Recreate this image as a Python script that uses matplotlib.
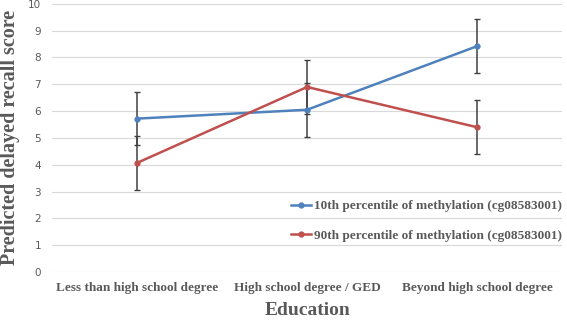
import numpy as np
import matplotlib.pyplot as plt
from matplotlib.lines import Line2D

categories = ['Less than high school degree', 'High school degree / GED', 'Beyond high school degree']
p10 = [5.72, 6.05, 8.42]
p90 = [4.07, 6.90, 5.40]
err10 = [1.0, 1.0, 1.0]
err90 = [1.0, 1.0, 1.0]
labels = ['10th percentile of methylation (cg08583001)', '90th percentile of methylation (cg08583001)']
colors = ['#4F81BD', '#C0504D']

fig = plt.figure(figsize=(5.67, 3.23), dpi=100)
ax = fig.add_axes([0.092, 0.158, 0.899, 0.830])

x = np.arange(len(categories))
for vals, errs, c in [(p10, err10, colors[0]), (p90, err90, colors[1])]:
    ax.errorbar(x, vals, yerr=errs, color=c, lw=1.8, marker='o', ms=3.5,
                ecolor='#404040', elinewidth=1.1, capsize=2.5, zorder=3)

ax.set_xlim(-0.5, 2.5)
ax.set_ylim(0, 10)
ax.set_yticks(range(0, 11))
ax.set_xticks(x)
ax.set_xticklabels(categories, family='Liberation Serif', fontweight='bold', fontsize=9.5, color='#595959')
ax.tick_params(axis='y', labelsize=7.5, labelcolor='#595959', length=0, pad=8)
ax.tick_params(axis='x', length=0, pad=7)
ax.grid(axis='y', color='#d9d9d9', lw=0.8)
ax.set_axisbelow(True)
for s in ax.spines.values():
    s.set_visible(False)

ax.set_xlabel('Education', family='Liberation Serif', fontweight='bold', fontsize=14, color='#595959', labelpad=6)
ax.set_ylabel('Predicted delayed recall score', family='Liberation Serif', fontweight='bold', fontsize=14.5,
              color='#595959', labelpad=6)

handles = [Line2D([], [], color=c, lw=1.8, marker='o', ms=3.5) for c in colors]
leg = ax.legend(handles, labels, loc='lower right', bbox_to_anchor=(1.018, 0.078), frameon=False,
                labelspacing=1.3, handlelength=1.5, handletextpad=0.2,
                borderpad=0.2, prop={'family': 'Liberation Serif', 'weight': 'bold', 'size': 9.5})
for t in leg.get_texts():
    t.set_color('#595959')

fig.savefig('out.png', dpi=100)
